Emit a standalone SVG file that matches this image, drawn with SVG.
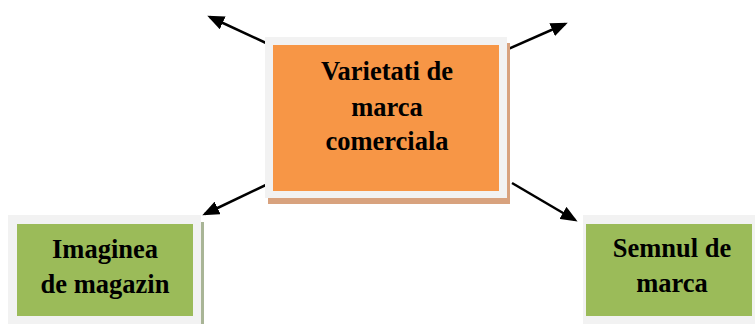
<svg xmlns="http://www.w3.org/2000/svg" width="755" height="324" viewBox="0 0 755 324">
<defs>
<style>
.t{font-family:"Liberation Serif","Times New Roman",serif;font-weight:bold;font-size:26.5px;fill:#000;text-anchor:middle}
.frame{fill:#F2F2F2}
.conn line{stroke:#000;stroke-width:2.5;marker-end:url(#ah)}
</style>
<marker id="ah" viewBox="0 0 17 14" refX="14" refY="7" markerWidth="17" markerHeight="14" orient="auto" markerUnits="userSpaceOnUse">
<path d="M0,0 L17,7 L0,14 Z" fill="#000"/>
</marker>
</defs>
<rect width="755" height="324" fill="#fff"/>
<g class="conn">
<line x1="266" y1="43" x2="210" y2="17"/>
<line x1="508" y1="49" x2="565" y2="24"/>
<line x1="270" y1="183" x2="205" y2="214"/>
<line x1="512" y1="183" x2="575" y2="220"/>
</g>
<g id="node-center">
<rect x="268" y="43" width="242" height="161" fill="#D8A27E"/>
<rect class="frame" x="265" y="37" width="242" height="161"/>
<rect x="273" y="45" width="226" height="146" fill="#F79646"/>
<text class="t" x="387" y="80">Varietati de</text>
<text class="t" x="387" y="116">marca</text>
<text class="t" x="387" y="150">comerciala</text>
</g>
<g id="node-left">
<rect x="12" y="222" width="192" height="102" fill="#A9B596"/>
<rect class="frame" x="8" y="215" width="193" height="109"/>
<rect x="17" y="224" width="176" height="92" fill="#9BBB59"/>
<text class="t" x="105" y="258">Imaginea</text>
<text class="t" x="105" y="293">de magazin</text>
</g>
<g id="node-right">
<rect class="frame" x="583" y="215" width="172" height="109"/>
<rect x="586" y="224" width="166" height="92" fill="#9BBB59"/>
<text class="t" x="672" y="257">Semnul de</text>
<text class="t" x="672" y="292">marca</text>
</g>
</svg>
